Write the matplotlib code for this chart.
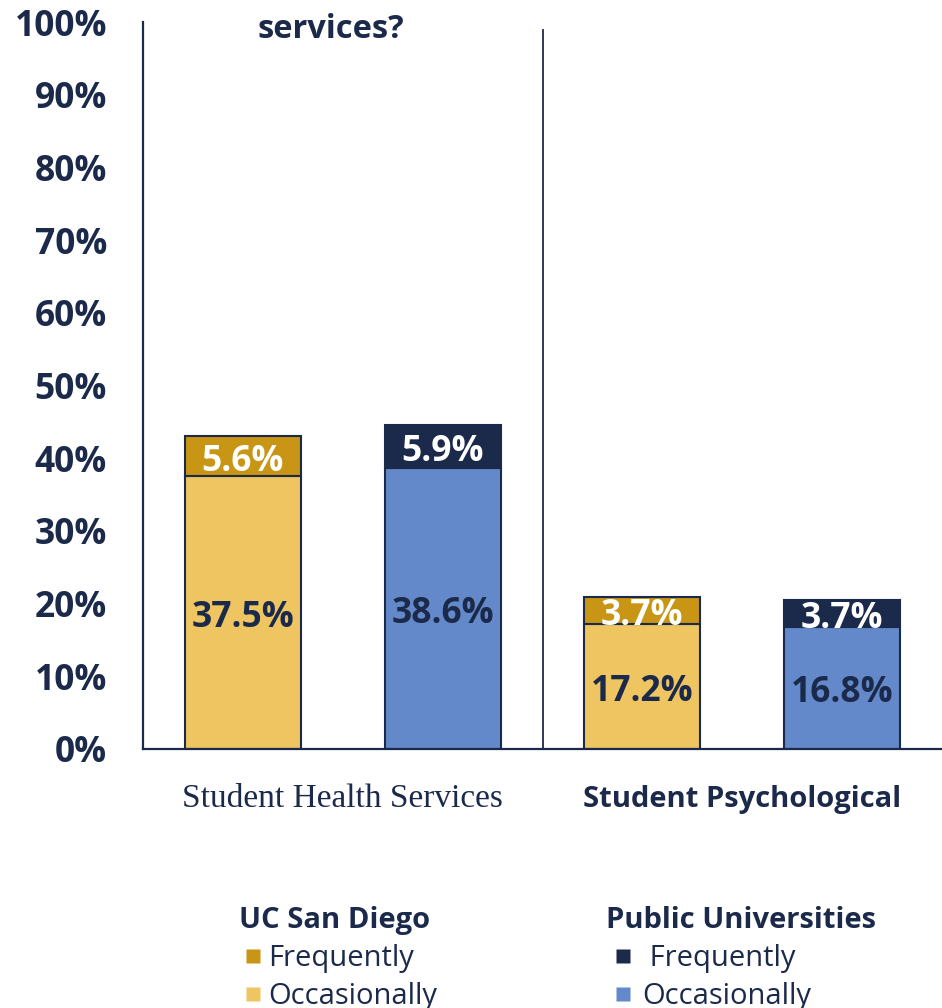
import matplotlib
matplotlib.use("Agg")
import matplotlib.pyplot as plt
import matplotlib.transforms as mtransforms
from matplotlib.lines import Line2D
import numpy as np

plt.rcParams['font.family'] = ['Open Sans', 'DejaVu Sans']

# ---- data ----
categories = ["Student Health Services", "Student Psychological"]
groups = ["UC San Diego", "Public Universities"]
ucsd_occasionally = [37.5, 17.2]
ucsd_frequently = [5.6, 3.7]
public_occasionally = [38.6, 16.8]
public_frequently = [5.9, 3.7]
y_ticks = [0, 10, 20, 30, 40, 50, 60, 70, 80, 90, 100]
y_tick_labels = [f"{v}%" for v in y_ticks]

NAVY = "#1B2A4A"
GOLD_DARK = "#C89514"
GOLD_LIGHT = "#EFC562"
BLUE = "#6389CA"

fig = plt.figure(figsize=(9.42, 10.08), dpi=100)
ax = fig.add_axes([143/942, 1-749/1008, 1-143/942, (749-22)/1008])

x_ucsd = np.array([0, 2])
x_pub = np.array([1, 3])
w = 0.58

ax.bar(x_ucsd, ucsd_occasionally, w, color=GOLD_LIGHT, edgecolor=NAVY, linewidth=1.5)
ax.bar(x_ucsd, ucsd_frequently, w, bottom=ucsd_occasionally, color=GOLD_DARK, edgecolor=NAVY, linewidth=1.5)
ax.bar(x_pub, public_occasionally, w, color=BLUE, edgecolor=NAVY, linewidth=1.5)
ax.bar(x_pub, public_frequently, w, bottom=public_occasionally, color=NAVY, edgecolor=NAVY, linewidth=1.5)

lab_fs = 25.5
shift = ax.transData + mtransforms.ScaledTranslation(0, -5.5/100, fig.dpi_scale_trans)
for xs, occ, freq in [(x_ucsd, ucsd_occasionally, ucsd_frequently), (x_pub, public_occasionally, public_frequently)]:
    for xi, o, f in zip(xs, occ, freq):
        ax.text(xi, o/2, f"{o}%", ha='center', va='center', fontsize=lab_fs,
                fontweight='bold', color=NAVY, transform=shift)
        ax.text(xi, o + f/2, f"{f}%", ha='center', va='center', fontsize=lab_fs,
                fontweight='bold', color='white', transform=shift)

ax.set_xlim(-0.5, 3.5)
ax.set_ylim(0, 100)
ax.set_yticks(y_ticks)
ax.set_yticklabels(y_tick_labels, fontsize=25.5, fontweight='bold', color=NAVY)
ax.tick_params(axis='y', length=0, pad=26)
ax.set_xticks([])
for s in ['top', 'right']:
    ax.spines[s].set_visible(False)
for s in ['left', 'bottom']:
    ax.spines[s].set_color(NAVY)
    ax.spines[s].set_linewidth(1.6)

ax.axvline(1.5, ymin=0, ymax=(749-30)/727, color=NAVY, linewidth=1.3)

# category labels
ax.text(0.5, -6.8, categories[0], ha='center', va='center', fontsize=24,
        family=['Liberation Serif'], color=NAVY)
ax.text(2.5, -6.9, categories[1], ha='center', va='center', fontsize=21,
        fontweight='bold', color=NAVY)

# title fragment
fig.text(331/942, 1-30/1008, "services?", ha='center', va='center', fontsize=23.5,
         fontweight='bold', color=NAVY)

# legends
def make_legend(title, c_freq, c_occ, x, y, freq_label, hlen):
    handles = [Line2D([], [], linestyle='none', marker='s', markersize=10.5,
                      markerfacecolor=c_freq, markeredgecolor='none', label=freq_label),
               Line2D([], [], linestyle='none', marker='s', markersize=10.5,
                      markerfacecolor=c_occ, markeredgecolor='none', label='Occasionally')]
    leg = fig.legend(handles=handles, title=title, loc='upper left',
                     bbox_to_anchor=(x, y), frameon=False, fontsize=21,
                     handlelength=hlen, handletextpad=0.05,
                     labelspacing=0.32, borderpad=0.3, borderaxespad=0,
                     title_fontproperties={'weight': 'bold', 'size': 21})
    leg._legend_box.align = "left"
    leg.get_title().set_color(NAVY)
    for t in leg.get_texts():
        t.set_color(NAVY)
    return leg

make_legend(groups[0], GOLD_DARK, GOLD_LIGHT, 230/942, 1-897/1008, 'Frequently', 0.95)
make_legend(groups[1], NAVY, BLUE, 597/942, 1-897/1008, ' Frequently', 1.2)

fig.savefig("out.png", dpi=100)
